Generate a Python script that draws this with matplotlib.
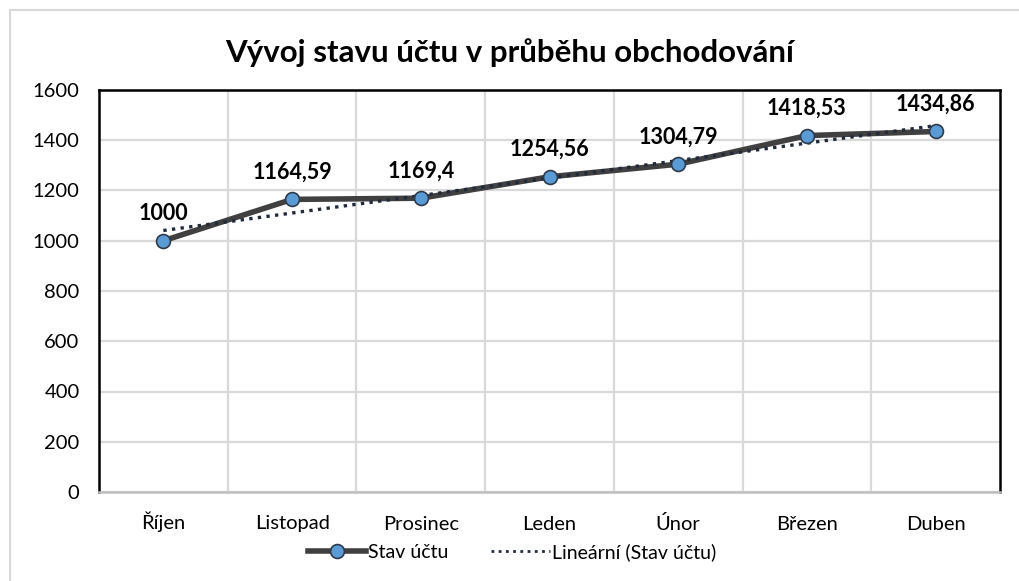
import numpy as np
import matplotlib
matplotlib.use("Agg")
import matplotlib.pyplot as plt
from matplotlib.lines import Line2D
from matplotlib.patches import Rectangle

months = ["Říjen", "Listopad", "Prosinec", "Leden", "Únor", "Březen", "Duben"]
balance = [1000, 1164.59, 1169.4, 1254.56, 1304.79, 1418.53, 1434.86]
label_texts = ["1000", "1164,59", "1169,4", "1254,56", "1304,79", "1418,53", "1434,86"]
y_ticks = [0, 200, 400, 600, 800, 1000, 1200, 1400, 1600]

plt.rcParams['font.family'] = ['Lato', 'DejaVu Sans']

fig = plt.figure(figsize=(10.19, 5.81), dpi=100)
fig.patches.append(Rectangle((10/1019, -0.1), 1.2, (581-10)/581 + 0.1,
                             transform=fig.transFigure, fill=False,
                             edgecolor="#D9D9D9", linewidth=1.5))

ax = fig.add_axes([99/1019, (581-492)/581, (1000-99)/1019, (492-90)/581])
x = np.arange(len(months))

# trendline (linear regression)
coef = np.polyfit(x, balance, 1)
trend = np.polyval(coef, x)
ax.plot(x, trend, linestyle=(0, (1, 1.6)), color="#1F2A3A", linewidth=2.4, zorder=4)

ax.plot(x, balance, color="#404040", linewidth=4, zorder=3)
ax.plot(x, balance, linestyle="none", marker="o", markersize=10,
        markerfacecolor="#5B9BD5", markeredgecolor="#2F3B4A",
        markeredgewidth=1.2, zorder=5)

for xi, yi, t in zip(x, balance, label_texts):
    ax.annotate(t, (xi, yi), xytext=(0, 12), textcoords="offset points",
                ha="center", va="bottom", fontsize=15.5, fontweight="bold",
                color="#000000")

ax.set_xlim(-0.5, len(months) - 0.5)
ax.set_ylim(0, 1600)
ax.set_yticks(y_ticks)
ax.set_xticks(x)
ax.set_xticklabels(months)
ax.set_xticks(np.arange(len(months) - 1) + 0.5, minor=True)
ax.tick_params(axis="both", which="both", length=0, labelsize=14.5, colors="#000000")
ax.tick_params(axis="x", pad=27)
ax.tick_params(axis="y", pad=14)
for lbl in ax.get_xticklabels():
    lbl.set_verticalalignment("baseline")
ax.grid(True, axis="y", which="major", color="#D9D9D9", linewidth=1.6)
ax.grid(True, axis="x", which="minor", color="#D9D9D9", linewidth=1.6)
ax.set_axisbelow(True)

for s in ["left", "top", "right"]:
    ax.spines[s].set_color("#000000")
    ax.spines[s].set_linewidth(1.8)
ax.spines["bottom"].set_color("#BFBFBF")
ax.spines["bottom"].set_linewidth(1.8)

fig.text(0.5, 1 - 53/581, "Vývoj stavu účtu v průběhu obchodování",
         ha="center", va="center", fontsize=22.5, fontweight="bold", color="#000000")

handles = [
    Line2D([], [], color="#404040", linewidth=4, marker="o", markersize=10,
           markerfacecolor="#5B9BD5", markeredgecolor="#2F3B4A", markeredgewidth=1.2),
    Line2D([], [], linestyle=(0, (1, 1.6)), color="#1F2A3A", linewidth=2.0),
]
fig.legend(handles, ["Stav účtu", "Lineární (Stav účtu)"], loc="center",
           bbox_to_anchor=(512/1019, 1 - 552/581), ncol=2, frameon=False,
           fontsize=14, handlelength=3.0, handletextpad=0.1, columnspacing=2.2)

fig.savefig("out.png", dpi=100, facecolor="white")
